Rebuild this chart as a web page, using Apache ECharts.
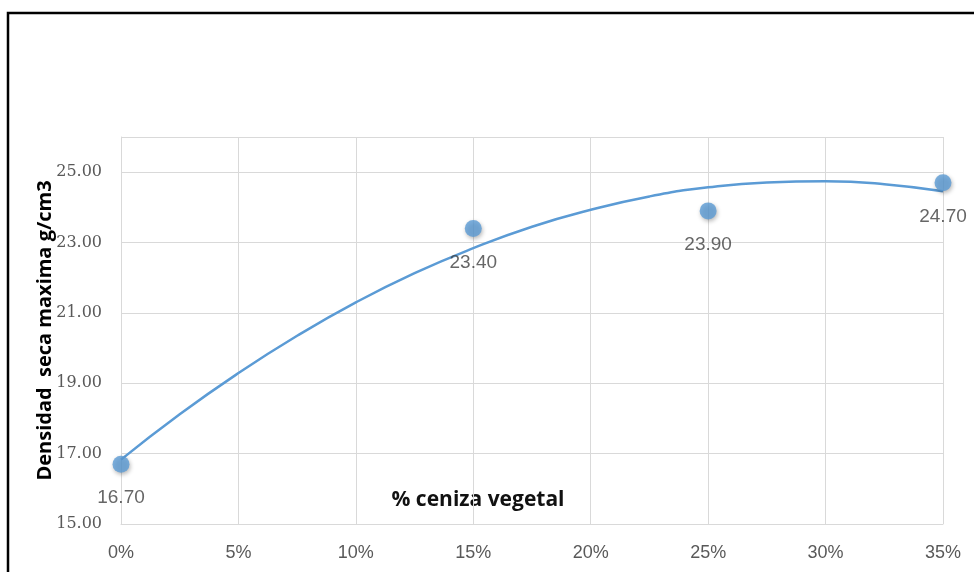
<!DOCTYPE html>
<html>
<head>
<meta charset="utf-8">
<script src="https://cdn.jsdelivr.net/npm/echarts@6/dist/echarts.min.js"></script>
<style>
  html, body { margin: 0; padding: 0; background: #fff; }
  #chart { width: 974px; height: 572px; }
</style>
</head>
<body>
<div id="chart"></div>
<script>
// Measured points: % of plant ash vs. maximum dry density
const ashPercent = [0, 15, 25, 35];
const dryDensity = [16.70, 23.40, 23.90, 24.70];

// Second-order trendline, read at 2.5% steps along the fitted curve
const trendPercent = [0, 2.5, 5, 7.5, 10, 12.5, 15, 17.5, 20, 22.5, 25, 27.5, 30, 32.5, 35];
const trendDensity = [16.83, 18.12, 19.29, 20.35, 21.30, 22.13, 22.84, 23.45, 23.93, 24.31, 24.57, 24.71, 24.74, 24.66, 24.46];

// Axis ticks
const xTicks = [0, 5, 10, 15, 20, 25, 30, 35];
const yTicks = [15, 17, 19, 21, 23, 25];

const xTitle = '% ceniza vegetal';
const yTitle = 'Densidad  seca maxima g/cm3';

const blue = '#5B9BD5';
const gridGray = '#d9d9d9';

const chart = echarts.init(document.getElementById('chart'), null, { renderer: 'canvas' });

chart.setOption({
  animation: false,
  backgroundColor: '#fff',
  grid: { left: 121, right: 31, top: 137, bottom: 48, containLabel: false },
  xAxis: {
    type: 'value',
    min: xTicks[0],
    max: xTicks[xTicks.length - 1],
    interval: xTicks[1] - xTicks[0],
    axisLine: { show: true, lineStyle: { color: gridGray, width: 1 } },
    axisTick: { show: false },
    splitLine: { show: true, lineStyle: { color: gridGray, width: 1 } },
    axisLabel: {
      margin: 20,
      color: '#595959',
      fontFamily: 'Liberation Sans',
      fontSize: 18,
      formatter: v => v + '%'
    }
  },
  yAxis: {
    type: 'value',
    min: yTicks[0],
    max: 26,
    interval: yTicks[1] - yTicks[0],
    name: yTitle,
    nameLocation: 'middle',
    nameGap: 66,
    nameMoveOverlap: false,
    nameTextStyle: {
      color: '#000',
      fontFamily: 'Open Sans',
      fontWeight: 'bold',
      fontSize: 20
    },
    axisLine: { show: true, lineStyle: { color: gridGray, width: 1 } },
    axisTick: { show: false },
    splitLine: { show: true, lineStyle: { color: gridGray, width: 1 } },
    axisLabel: {
      margin: 19,
      color: '#595959',
      fontFamily: 'DejaVu Serif',
      fontSize: 16,
      formatter: v => (yTicks.indexOf(v) >= 0 ? v.toFixed(2) : '')
    }
  },
  graphic: [
    {
      type: 'text',
      x: 478,
      y: 500,
      style: {
        text: xTitle,
        fill: '#111',
        font: 'bold 21px "Open Sans"',
        align: 'center',
        verticalAlign: 'middle'
      }
    },
    {
      type: 'rect',
      shape: { x: 8, y: 13, width: 1100, height: 700 },
      style: { fill: 'none', stroke: '#000', lineWidth: 2.5 },
      silent: true
    }
  ],
  series: [
    {
      name: 'tendencia',
      type: 'line',
      smooth: true,
      showSymbol: false,
      symbol: 'none',
      data: trendPercent.map((x, i) => [x, trendDensity[i]]),
      lineStyle: { color: blue, width: 2.5 },
      z: 2
    },
    {
      name: 'densidad',
      type: 'scatter',
      symbol: 'circle',
      symbolSize: 17,
      data: ashPercent.map((x, i) => [x, dryDensity[i]]),
      itemStyle: {
        color: blue,
        shadowBlur: 4,
        shadowColor: 'rgba(0,0,0,0.35)',
        shadowOffsetX: 1,
        shadowOffsetY: 2
      },
      label: {
        show: true,
        position: 'bottom',
        distance: 16,
        color: '#404040',
        fontFamily: 'Liberation Sans',
        fontSize: 19,
        formatter: p => p.value[1].toFixed(2)
      },
      z: 3
    }
  ]
});
</script>
</body>
</html>
